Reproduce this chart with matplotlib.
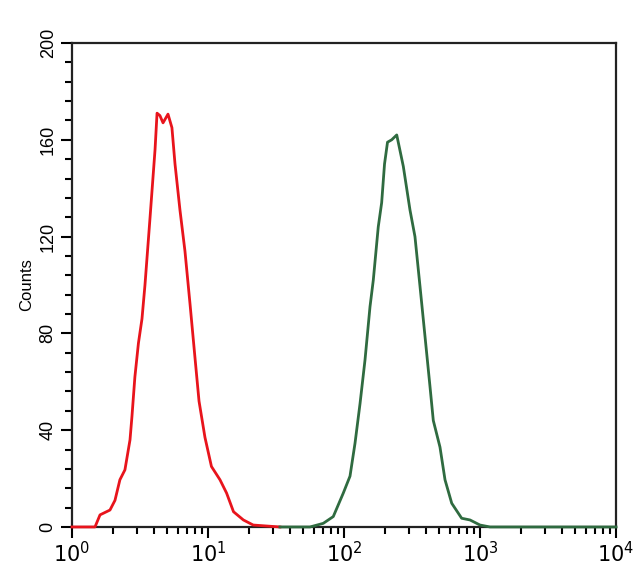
import matplotlib
matplotlib.use("Agg")
import matplotlib.pyplot as plt
from matplotlib.ticker import FixedLocator, LogLocator, NullFormatter

plt.rcParams['font.family'] = ['Liberation Sans', 'DejaVu Sans']

# Isotype control (red)
red_x = [1.0, 1.476, 1.607, 1.902, 2.07, 2.25, 2.45, 2.67, 2.76, 2.90, 3.08, 3.27,
         3.44, 3.75, 4.08, 4.22, 4.43, 4.67, 5.08, 5.43, 5.72, 6.22, 6.77, 7.38,
         8.02, 8.59, 9.50, 10.6, 12.25, 13.7, 15.4, 18.2, 21.5, 33.8]
red_y = [0, 0, 5, 7, 11, 19.5, 23.6, 36, 45.7, 62, 76, 86,
         100, 128, 156, 171, 170, 167, 170.6, 165, 150, 131, 114, 92,
         70, 52, 37, 25, 19.5, 14, 6.3, 2.9, 0.8, 0]

# Sample (green)
green_x = [33.8, 47.5, 56.2, 70.4, 83.4, 98.8, 110.7, 120.5, 131.2, 142.7, 155.3,
           164.2, 178.6, 189.2, 198.6, 208.9, 224.3, 244.2, 273, 305.6, 332.5,
           362, 394, 428.9, 453.5, 507.9, 553, 619.6, 733, 844, 1000, 1185, 10000]
green_y = [0, 0, 0, 1.5, 4.3, 14, 21, 34.6, 51, 69, 91,
           102, 124, 134, 150, 159, 160, 162, 149, 131, 120,
           99.5, 78.8, 58, 44, 33, 19.5, 9.8, 3.6, 2.9, 0.8, 0, 0]

y_ticks = [0, 40, 80, 120, 160, 200]
x_ticks = [1, 10, 100, 1000, 10000]
x_labels = [r'$10^{0}$', r'$10^{1}$', r'$10^{2}$', r'$10^{3}$', r'$10^{4}$']

fig = plt.figure(figsize=(6.4, 5.77), dpi=100)
ax = fig.add_axes([0.1125, 0.0867, 0.85, 0.8388])

ax.plot(red_x, red_y, color='#e8141c', lw=2.0, solid_joinstyle='round',
        clip_on=False, zorder=3)
ax.plot(green_x, green_y, color='#2f6b40', lw=2.0, solid_joinstyle='round',
        clip_on=False, zorder=3)

ax.set_xscale('log')
ax.set_xlim(1, 10000)
ax.set_ylim(0, 200)

ax.set_xticks(x_ticks)
ax.set_xticklabels(x_labels, fontsize=15)
ax.xaxis.set_minor_locator(LogLocator(base=10, subs=range(2, 10), numticks=20))
ax.xaxis.set_minor_formatter(NullFormatter())

ax.set_yticks(y_ticks)
ax.set_yticklabels([str(v) for v in y_ticks], fontsize=13, rotation=90, va='center')
ax.yaxis.set_minor_locator(FixedLocator([v for v in range(0, 201, 8)]))

ax.tick_params(axis='both', which='major', direction='out', length=8, width=1.5, color='black')
ax.tick_params(axis='both', which='minor', direction='out', length=5, width=1.5, color='black')
ax.tick_params(axis='x', which='major', pad=2)
ax.tick_params(axis='y', which='major', pad=3)

for s in ax.spines.values():
    s.set_linewidth(1.6)
    s.set_color('#222222')

ax.set_ylabel('Counts', fontsize=12, labelpad=4)

fig.savefig('out.png', dpi=100)
